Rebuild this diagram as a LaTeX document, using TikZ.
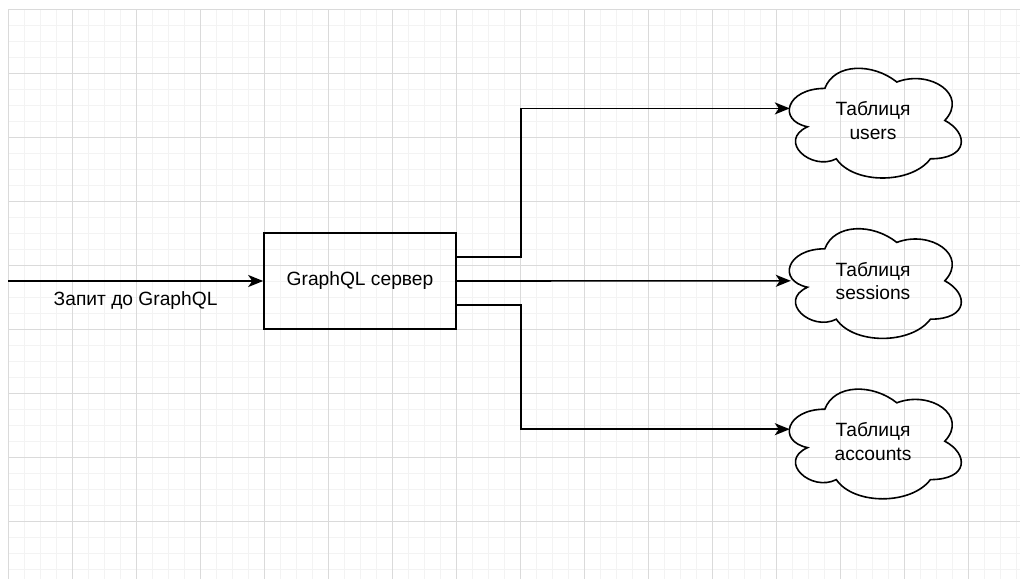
\documentclass[tikz,border=0pt]{standalone}
\usepackage{fontspec}
\setmainfont{Liberation Sans}
\usetikzlibrary{positioning, arrows.meta, calc}

\definecolor{gridminor}{HTML}{F3F3F3}
\definecolor{gridmajor}{HTML}{DADADA}

\newcommand{\tablecloudoutline}[1]{%
  \draw[line width=1.6pt, shift={(#1.north west)}, x=192pt, y=-128pt]
    (0.25,0.25) .. controls (0.05,0.25) and (0,0.5) .. (0.16,0.55)
    .. controls (0,0.66) and (0.18,0.9) .. (0.31,0.8)
    .. controls (0.4,1) and (0.7,1) .. (0.8,0.8)
    .. controls (1,0.8) and (1,0.6) .. (0.875,0.5)
    .. controls (1,0.3) and (0.8,0.1) .. (0.625,0.2)
    .. controls (0.5,0.05) and (0.3,0.05) .. (0.25,0.25) -- cycle;}

\begin{document}
\begin{tikzpicture}[
    x=1pt, y=-1pt,
    label text/.style={font=\fontsize{19.2}{23.5}\selectfont},
    server/.style={rectangle, draw, line width=1.6pt, label text,
                   minimum width=192pt, minimum height=96pt},
    tablecloud/.style={rectangle, align=center, label text, inner sep=0pt,
                       minimum width=192pt, minimum height=128pt},
    arrow/.style={line width=1.6pt, -{Stealth[length=15pt, width=12pt, inset=4pt]}},
    minorline/.style={gridminor, line width=1pt},
    majorline/.style={gridmajor, line width=1pt}
]
    \useasboundingbox[fill=white] (0,0) rectangle (1020,579);

    \foreach \gx in {8,24,...,1020} \draw[minorline] (\gx,9) -- (\gx,579);
    \foreach \gy in {9,25,...,579} \draw[minorline] (8,\gy) -- (1020,\gy);
    \foreach \gx in {8,72,...,1020} \draw[majorline] (\gx,9) -- (\gx,579);
    \foreach \gy in {9,73,...,579} \draw[majorline] (8,\gy) -- (1020,\gy);

    \node[server]                            (srv)      at (360,281) {GraphQL сервер};
    \node[tablecloud, right=320pt of srv]    (sessions) {Таблиця\\sessions};
    \node[tablecloud, above=32pt of sessions](users)    {Таблиця\\users};
    \node[tablecloud, below=32pt of sessions](accounts) {Таблиця\\accounts};

    \tablecloudoutline{users}
    \tablecloudoutline{sessions}
    \tablecloudoutline{accounts}

    \coordinate (request)    at (8,281);
    \coordinate (usersin)    at ($(users.north west)+(13,52)$);
    \coordinate (sessionsin) at ($(sessions.north west)+(14,64)$);
    \coordinate (accountsin) at ($(accounts.north west)+(13,52)$);

    \draw[arrow] (request) -- node[below=6pt, label text] {Запит до GraphQL} (srv.west);
    \draw[arrow] ([yshift=24pt]srv.east) -- ++(64,0) |- (usersin);
    \draw[arrow] (srv.east) -- (sessionsin);
    \draw[arrow] ([yshift=-24pt]srv.east) -- ++(64,0) |- (accountsin);
\end{tikzpicture}
\end{document}
